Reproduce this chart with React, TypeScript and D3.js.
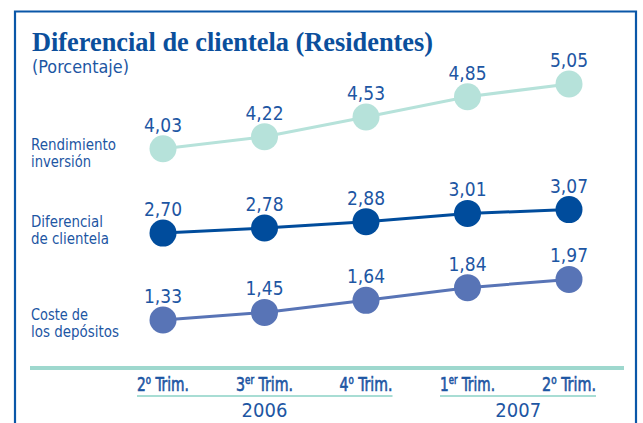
import React from "react";
import * as d3 from "d3";

const quarters = ["2º Trim.", "3er Trim.", "4º Trim.", "1er Trim.", "2º Trim."];
const quarterMain = ["2", "3", "4", "1", "2"];
const quarterSup = ["o", "er", "o", "er", "o"];
const years = ["2006", "2007"];
const yearSpans = [[0, 2], [3, 4]];
const seriesNames = [["Rendimiento", "inversión"], ["Diferencial", "de clientela"], ["Coste de", "los depósitos"]];
const rendimiento = [4.03, 4.22, 4.53, 4.85, 5.05];
const diferencial = [2.7, 2.78, 2.88, 3.01, 3.07];
const coste = [1.33, 1.45, 1.64, 1.84, 1.97];
const seriesColors = ["#b6e2da", "#004c9c", "#5874b6"];

const W = 643, H = 423;
const FONT = "'DejaVu Sans Condensed', 'Liberation Sans Narrow', 'Open Sans', sans-serif";
const TXT = "#1d56a3";
const nameWidths = [[85, 60], [72, 78], [57, 88]];
const nameBase = [150, 227, 320];
const tickWidths = [52, 57, 53, 55, 54];

export default function App() {
  const x = d3.scalePoint<number>().domain([0, 1, 2, 3, 4]).range([163, 569]);
  const y = d3.scaleLinear().domain([1.33, 5.05]).range([320, 84]);
  const fmt = (v: number) => v.toFixed(2).replace(".", ",");
  const all = [rendimiento, diferencial, coste];
  const line = d3.line<number>().x((_, i) => x(i)!).y((v) => y(v));
  const tickRefs = React.useRef<(SVGTextElement | null)[]>([]);
  React.useLayoutEffect(() => {
    tickRefs.current.forEach((el, i) => {
      if (!el) return;
      el.removeAttribute("transform");
      const w = el.getBBox().width;
      const s = tickWidths[i] / w;
      el.setAttribute("transform", `translate(${x(i)},391) scale(${s},1)`);
    });
  }, []);
  return (
    <svg width={W} height={H} style={{ position: "absolute", left: 0, top: 0 }}>
      <rect x={0} y={0} width={W} height={H} fill="#fff" />
      <path d={`M15,${H + 5} V11.5 H636 V${H + 5}`} fill="none" stroke="#0a57a8" strokeWidth={2.2} />
      <text x={32} y={51} fill="#0b4f9c" fontFamily="'Liberation Serif', 'DejaVu Serif', serif" fontWeight="bold" fontSize={26.5} textLength={401} lengthAdjust="spacingAndGlyphs">
        Diferencial de clientela (Residentes)
      </text>
      <text x={32} y={73} fill={TXT} fontFamily={FONT} fontSize={17.5} textLength={97} lengthAdjust="spacingAndGlyphs">(Porcentaje)</text>
      {seriesNames.map((ln, si) => (
        <g key={si}>
          {ln.map((t, li) => (
            <text key={li} x={31} y={nameBase[si] + li * 16.5} fill={TXT} fontFamily={FONT} fontSize={15} textLength={nameWidths[si][li]} lengthAdjust="spacingAndGlyphs">{t}</text>
          ))}
        </g>
      ))}
      {all.map((s, si) => (
        <g key={si}>
          <path d={line(s)!} fill="none" stroke={seriesColors[si]} strokeWidth={3} />
          {s.map((v, i) => (
            <g key={i}>
              <circle cx={x(i)} cy={y(v)} r={13.5} fill={seriesColors[si]} />
              <text x={x(i)} y={y(v) - 17} textAnchor="middle" fill={TXT} fontFamily={FONT} fontSize={19}>
                {fmt(v)}
              </text>
            </g>
          ))}
        </g>
      ))}
      <line x1={30} x2={624} y1={368} y2={368} stroke="#9ed8ce" strokeWidth={4} />
      {quarters.map((q, i) => (
        <text key={i} ref={(el) => { tickRefs.current[i] = el; }} x={0} y={0} transform={`translate(${x(i)},391)`} textAnchor="middle" fill={TXT} stroke={TXT} strokeWidth={0.6} fontFamily={FONT} fontSize={19.5} aria-label={q}>
          {quarterMain[i]}
          <tspan fontSize={12} dy={-7}>{quarterSup[i]}</tspan>
          <tspan dy={7}> Trim.</tspan>
        </text>
      ))}
      {years.map((yr, k) => {
        const [a, b] = yearSpans[k];
        const x0 = x(a)! - tickWidths[a] / 2, x1 = x(b)! + tickWidths[b] / 2;
        return (
          <g key={k}>
            <line x1={x0} x2={x1} y1={396} y2={396} stroke="#a8ddd4" strokeWidth={1.8} />
            <text x={(x(a)! + x(b)!) / 2} y={417} textAnchor="middle" fill={TXT} fontFamily={FONT} fontSize={20}>
              {yr}
            </text>
          </g>
        );
      })}
    </svg>
  );
}
